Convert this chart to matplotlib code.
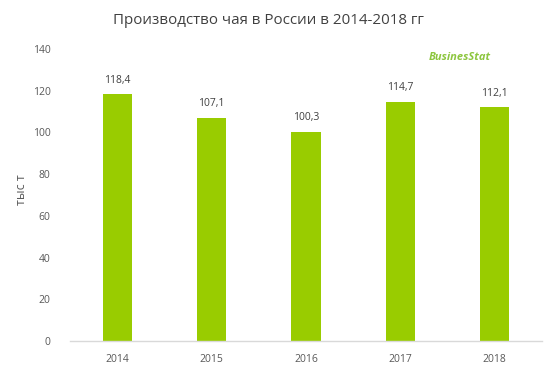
import matplotlib
matplotlib.use('Agg')
from matplotlib import pyplot as plt

# data
years = ['2014', '2015', '2016', '2017', '2018']
values = [118.4, 107.1, 100.3, 114.7, 112.1]
value_labels = ['118,4', '107,1', '100,3', '114,7', '112,1']
y_ticks = [0, 20, 40, 60, 80, 100, 120, 140]

bar_color = '#99CC00'
text_color = '#595959'

plt.rcParams['font.family'] = ['Open Sans', 'DejaVu Sans']

fig = plt.figure(figsize=(5.56, 3.72), dpi=100)
ax = fig.add_axes([70 / 556, 31 / 372, 472 / 556, 292 / 372])

x = list(range(len(years)))
ax.bar(x, values, width=0.31, color=bar_color, zorder=2)

for xi, v, lab in zip(x, values, value_labels):
    ax.text(xi, v + 4, lab, ha='center', va='bottom', fontsize=7.5, color='#404040')

ax.set_xlim(-0.5, len(years) - 0.5)
ax.set_ylim(0, 140)
ax.set_yticks(y_ticks)
ax.set_xticks(x)
ax.set_xticklabels(years)
ax.tick_params(axis='both', length=0, labelsize=7.5, colors=text_color)
ax.tick_params(axis='y', pad=14)
ax.tick_params(axis='x', pad=9)

for side in ['top', 'right', 'left']:
    ax.spines[side].set_visible(False)
ax.spines['bottom'].set_color('#D9D9D9')
ax.spines['bottom'].set_linewidth(1)

ax.set_ylabel('тыс т', fontsize=9, color=text_color)
ax.yaxis.set_label_coords(-0.088, 0.52)

fig.text(268 / 556, 1 - 20 / 372, 'Производство чая в России в 2014-2018 гг',
         ha='center', va='center', fontsize=10.9, color='#404040')

# logo
fig.text(460 / 556, 1 - 57 / 372, 'BusinesStat', ha='center', va='center',
         fontsize=8, color='#8DC63F', fontweight='bold', style='italic')

fig.savefig('out.png', dpi=100)
